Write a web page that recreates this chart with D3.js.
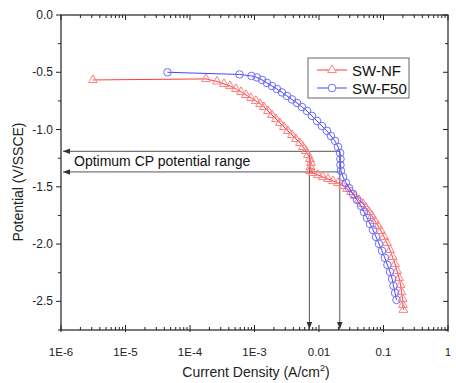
<!DOCTYPE html>
<html>
<head>
<meta charset="utf-8">
<script src="https://cdn.jsdelivr.net/npm/d3@7"></script>
<style>
  body { margin: 0; background: #fff; }
  svg { font-family: "Liberation Sans", Arial, sans-serif; }
</style>
</head>
<body>
<div id="chart"></div>
<script>
// SW-NF (red triangles): current density (A/cm2) and potential (V/SSCE)
const nfCurrent = [3.13e-6, 1.77e-4, 2.62e-4, 3.37e-4, 4.17e-4, 5.16e-4, 6.18e-4, 7.38e-4, 8.83e-4,
  1.05e-3, 1.22e-3, 1.40e-3, 1.62e-3, 1.87e-3, 2.15e-3, 2.48e-3, 2.86e-3, 3.30e-3, 3.81e-3, 4.40e-3,
  5.07e-3, 5.65e-3, 6.28e-3, 6.75e-3, 7.24e-3, 7.51e-3, 7.38e-3, 7.24e-3, 8.07e-3, 9.63e-3,
  1.15e-2, 1.38e-2, 1.65e-2, 1.97e-2, 2.36e-2, 2.72e-2, 3.13e-2, 3.61e-2, 4.17e-2, 4.81e-2,
  5.36e-2, 5.96e-2, 6.64e-2, 7.38e-2, 8.22e-2, 9.14e-2, 0.102, 0.113, 0.126, 0.138,
  0.151, 0.162, 0.174, 0.184, 0.190, 0.197, 0.200, 0.204];
const nfPotential = [-0.567, -0.558, -0.580, -0.602, -0.620, -0.646, -0.672, -0.698, -0.724,
  -0.750, -0.777, -0.803, -0.838, -0.873, -0.908, -0.942, -0.977, -1.012, -1.047, -1.082,
  -1.117, -1.152, -1.187, -1.222, -1.257, -1.291, -1.326, -1.361, -1.379, -1.396,
  -1.414, -1.431, -1.449, -1.466, -1.492, -1.518, -1.545, -1.579, -1.614, -1.649,
  -1.684, -1.719, -1.754, -1.798, -1.841, -1.885, -1.937, -1.990, -2.051, -2.112,
  -2.173, -2.234, -2.295, -2.356, -2.417, -2.478, -2.531, -2.574];

// SW-F50 (blue circles)
const f50Current = [4.48e-5, 5.85e-4, 8.97e-4, 1.09e-3, 1.31e-3, 1.56e-3, 1.87e-3, 2.23e-3, 2.67e-3,
  3.19e-3, 3.81e-3, 4.56e-3, 5.44e-3, 6.52e-3, 7.78e-3, 9.31e-3, 1.11e-2, 1.33e-2, 1.53e-2,
  1.77e-2, 1.97e-2, 2.12e-2, 2.15e-2, 2.15e-2, 2.19e-2, 2.36e-2, 2.62e-2, 2.92e-2, 3.37e-2,
  3.88e-2, 4.48e-2, 4.99e-2, 5.55e-2, 6.18e-2, 6.87e-2, 7.66e-2, 8.51e-2, 9.48e-2, 0.105,
  0.115, 0.126, 0.136, 0.143, 0.151, 0.159];
const f50Potential = [-0.500, -0.519, -0.532, -0.545, -0.567, -0.593, -0.620, -0.646, -0.676,
  -0.707, -0.737, -0.768, -0.803, -0.838, -0.881, -0.925, -0.969, -1.012, -1.056,
  -1.099, -1.152, -1.204, -1.257, -1.309, -1.361, -1.414, -1.466, -1.510, -1.562,
  -1.614, -1.667, -1.719, -1.771, -1.824, -1.876, -1.937, -1.998, -2.059, -2.120,
  -2.182, -2.243, -2.304, -2.365, -2.426, -2.487];

const seriesNames = ["SW-NF", "SW-F50"];
const cpPotentials = [-1.19, -1.37];      // optimum CP potential range
const cpCurrents = [0.0071, 0.021];        // current densities at the range
const xTickValues = [1e-6, 1e-5, 1e-4, 1e-3, 1e-2, 1e-1, 1];
const xTickLabels = ["1E-6", "1E-5", "1E-4", "1E-3", "0.01", "0.1", "1"];
const yTickValues = [0, -0.5, -1.0, -1.5, -2.0, -2.5];
const yTickLabels = ["0.0", "-0.5", "-1.0", "-1.5", "-2.0", "-2.5"];

const W = 456, H = 383;
const m = { left: 61, right: 448, top: 15, bottom: 330 };
const RED = "#ff3b3b", RED_M = "#ff8080", BLUE = "#4646ff", BLUE_M = "#7070ff";
const FRAME = "#222";

const svg = d3.select("#chart").append("svg").attr("width", W).attr("height", H);

const x = d3.scaleLog().domain([1e-6, 1]).range([m.left, m.right]);
const y = d3.scaleLinear().domain([-2.75, 0]).range([m.bottom, m.top]);

const nf = nfCurrent.map((c, i) => ({ c, e: nfPotential[i] }));
const f50 = f50Current.map((c, i) => ({ c, e: f50Potential[i] }));

// minor ticks
const minorX = [];
xTickValues.slice(0, -1).forEach((d) => {
  for (let k = 2; k <= 9; k++) minorX.push(d * k);
});
const minorY = yTickValues.map((v) => v - 0.25);

const ticks = svg.append("g").attr("stroke", FRAME).attr("stroke-width", 1);
// bottom & top (inward)
xTickValues.forEach((d) => {
  ticks.append("line").attr("x1", x(d)).attr("x2", x(d)).attr("y1", m.bottom + 2).attr("y2", m.bottom - 5);
  ticks.append("line").attr("x1", x(d)).attr("x2", x(d)).attr("y1", m.top).attr("y2", m.top + 5);
});
minorX.forEach((d) => {
  ticks.append("line").attr("x1", x(d)).attr("x2", x(d)).attr("y1", m.bottom).attr("y2", m.bottom - 3);
  ticks.append("line").attr("x1", x(d)).attr("x2", x(d)).attr("y1", m.top).attr("y2", m.top + 3);
});
// left (outward) & right (inward)
yTickValues.forEach((d) => {
  ticks.append("line").attr("x1", m.left).attr("x2", m.left - 5).attr("y1", y(d)).attr("y2", y(d));
  ticks.append("line").attr("x1", m.right).attr("x2", m.right - 5).attr("y1", y(d)).attr("y2", y(d));
});
minorY.forEach((d) => {
  ticks.append("line").attr("x1", m.left).attr("x2", m.left - 3).attr("y1", y(d)).attr("y2", y(d));
  ticks.append("line").attr("x1", m.right).attr("x2", m.right - 3).attr("y1", y(d)).attr("y2", y(d));
});

// frame
svg.append("rect")
  .attr("x", m.left).attr("y", m.top)
  .attr("width", m.right - m.left).attr("height", m.bottom - m.top)
  .attr("fill", "none").attr("stroke", FRAME).attr("stroke-width", 1.2);

// tick labels
svg.append("g").selectAll("text").data(xTickValues).join("text")
  .attr("x", (d) => x(d)).attr("y", 356)
  .attr("text-anchor", "middle").attr("font-size", 11.5).attr("fill", "#222")
  .text((d, i) => xTickLabels[i]);
svg.append("g").selectAll("text").data(yTickValues).join("text")
  .attr("x", 53).attr("y", (d) => y(d) + 4)
  .attr("text-anchor", "end").attr("font-size", 12).attr("fill", "#222")
  .text((d, i) => yTickLabels[i]);

// axis titles
const xt = svg.append("text")
  .attr("x", 256).attr("y", 377).attr("text-anchor", "middle")
  .attr("font-size", 14).attr("fill", "#222");
xt.append("tspan").text("Current Density (A/cm");
xt.append("tspan").attr("font-size", 9).attr("dy", -6).text("2");
xt.append("tspan").attr("dy", 6).text(")");

svg.append("text")
  .attr("transform", "translate(23,182) rotate(-90)")
  .attr("text-anchor", "middle").attr("font-size", 14).attr("fill", "#222")
  .text("Potential (V/SSCE)");

// arrow markers
const defs = svg.append("defs");
defs.append("marker").attr("id", "arr").attr("viewBox", "0 0 10 10")
  .attr("refX", 10).attr("refY", 5).attr("markerWidth", 7).attr("markerHeight", 7)
  .attr("markerUnits", "userSpaceOnUse").attr("orient", "auto")
  .append("path").attr("d", "M0,1L10,5L0,9Z").attr("fill", "#333");

// CP range guides
const guide = svg.append("g").attr("stroke", "#555").attr("stroke-width", 1).attr("fill", "none");
cpPotentials.forEach((p) => {
  guide.append("line")
    .attr("x1", x(d3.max(cpCurrents))).attr("x2", m.left + 2)
    .attr("y1", y(p)).attr("y2", y(p))
    .attr("marker-end", "url(#arr)");
});
cpCurrents.forEach((c) => {
  guide.append("line")
    .attr("x1", x(c)).attr("x2", x(c))
    .attr("y1", y(cpPotentials[0])).attr("y2", m.bottom - 1)
    .attr("marker-end", "url(#arr)");
});
svg.append("text")
  .attr("x", 74).attr("y", 166).attr("font-size", 14).attr("fill", "#111")
  .text("Optimum CP potential range");

// series
const line = d3.line().x((d) => x(d.c)).y((d) => y(d.e));
const tri = d3.symbol().type(d3.symbolTriangle).size(34);

function drawSeries(data, lineColor, markColor, shape) {
  const g = svg.append("g");
  g.append("path").datum(data).attr("d", line)
    .attr("fill", "none").attr("stroke", lineColor).attr("stroke-width", 1);
  if (shape === "tri") {
    g.selectAll("path.m").data(data).join("path").attr("class", "m")
      .attr("d", tri)
      .attr("transform", (d) => `translate(${x(d.c)},${y(d.e)})`)
      .attr("fill", "none").attr("stroke", markColor).attr("stroke-width", 1);
  } else {
    g.selectAll("circle").data(data).join("circle")
      .attr("cx", (d) => x(d.c)).attr("cy", (d) => y(d.e)).attr("r", 3.8)
      .attr("fill", "none").attr("stroke", markColor).attr("stroke-width", 1);
  }
}
drawSeries(nf, RED, RED_M, "tri");
drawSeries(f50, BLUE, BLUE_M, "circle");

// legend
const lg = svg.append("g");
lg.append("rect").attr("x", 308).attr("y", 58).attr("width", 101).attr("height", 40)
  .attr("fill", "#fff").attr("stroke", "#666").attr("stroke-width", 1);
seriesNames.forEach((name, i) => {
  const ly = 70 + i * 18;
  const col = i === 0 ? RED : BLUE;
  const mc = i === 0 ? RED_M : BLUE_M;
  lg.append("line").attr("x1", 317).attr("x2", 347).attr("y1", ly).attr("y2", ly)
    .attr("stroke", col).attr("stroke-width", 1);
  if (i === 0) {
    lg.append("path").attr("d", tri).attr("transform", `translate(332,${ly})`)
      .attr("fill", "#fff").attr("stroke", mc);
  } else {
    lg.append("circle").attr("cx", 332).attr("cy", ly).attr("r", 3.8)
      .attr("fill", "#fff").attr("stroke", mc);
  }
  lg.append("text").attr("x", 352).attr("y", ly + 5.5).attr("font-size", 15)
    .attr("fill", "#111").text(name);
});
</script>
</body>
</html>
